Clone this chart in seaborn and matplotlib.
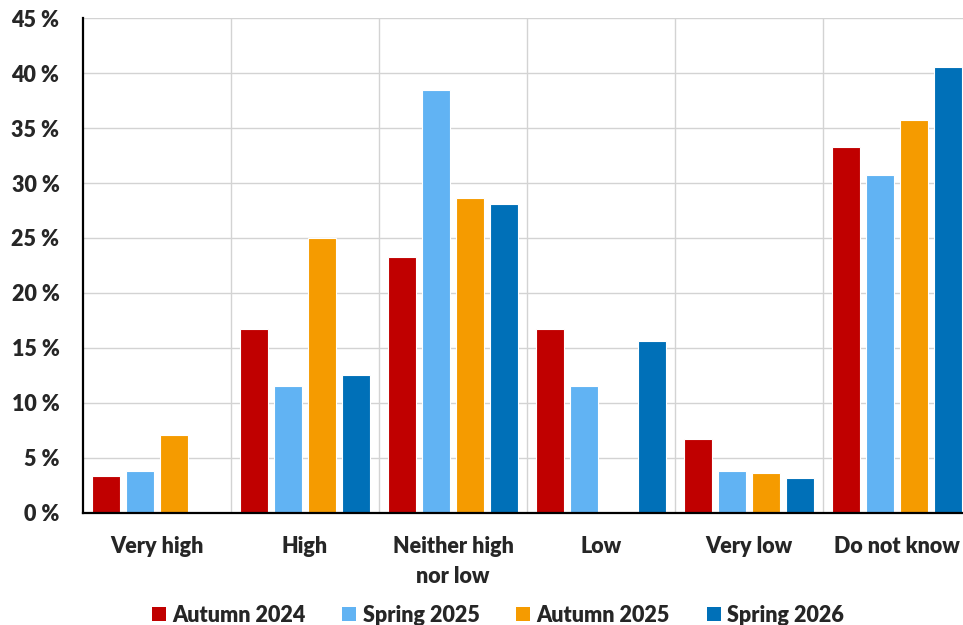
import matplotlib
matplotlib.use("Agg")
import matplotlib.pyplot as plt
from matplotlib.patches import Patch
from matplotlib.ticker import FixedLocator, MultipleLocator, FuncFormatter
import seaborn as sns
import pandas as pd

categories = ["Very high", "High", "Neither high\nnor low", "Low", "Very low", "Do not know"]
surveys = ["Autumn 2024", "Spring 2025", "Autumn 2025", "Spring 2026"]
autumn_2024 = [3.3, 16.7, 23.3, 16.7, 6.7, 33.3]
spring_2025 = [3.8, 11.5, 38.5, 11.5, 3.8, 30.7]
autumn_2025 = [7.1, 25.0, 28.6, 0.0, 3.6, 35.7]
spring_2026 = [0.0, 12.5, 28.1, 15.6, 3.1, 40.6]
colors = ["#C00000", "#61B3F3", "#F59B00", "#0070B8"]

series = [autumn_2024, spring_2025, autumn_2025, spring_2026]
rows = []
for name, vals in zip(surveys, series):
    for cat, v in zip(categories, vals):
        rows.append({"category": cat, "survey": name, "share": v})
df = pd.DataFrame(rows)

sns.set_style("white")
plt.rcParams["font.family"] = ["Lato", "DejaVu Sans"]
plt.rcParams["font.weight"] = "bold"

fig = plt.figure(figsize=(9.63, 6.25), dpi=100)
ax = fig.add_axes([83 / 963, 1 - 512.5 / 625, 888 / 963, 494.2 / 625])

sns.barplot(data=df, x="category", y="share", hue="survey",
            order=categories, hue_order=surveys, palette=colors, saturation=1,
            width=0.92, gap=0.2, edgecolor="white", linewidth=0.8,
            legend=False, ax=ax, zorder=2)

ax.set_ylim(0, 45)
ax.set_xlim(-0.5, len(categories) - 0.5)
ax.yaxis.set_major_locator(MultipleLocator(5))
ax.yaxis.set_major_formatter(FuncFormatter(lambda v, _: f"{v:.0f} %"))
ax.xaxis.set_minor_locator(FixedLocator([i + 0.5 for i in range(len(categories) - 1)]))

ax.grid(axis="y", which="major", color="#D3D3D3", linewidth=1.0, zorder=0)
ax.grid(axis="x", which="minor", color="#D3D3D3", linewidth=1.0, zorder=0)
ax.grid(axis="x", which="major", visible=False)
ax.set_axisbelow(True)

for side in ("top", "right"):
    ax.spines[side].set_visible(False)
for side in ("left", "bottom"):
    ax.spines[side].set_color("black")
    ax.spines[side].set_linewidth(1.6)

ax.tick_params(axis="y", which="major", direction="in", length=5, width=1.6,
               color="black", labelsize=15.5, pad=17)
ax.tick_params(axis="x", which="major", length=0, labelsize=15.5, pad=17)
ax.tick_params(axis="x", which="minor", direction="in", length=5, width=1.6, color="black")
for lbl in ax.get_xticklabels() + ax.get_yticklabels():
    lbl.set_fontweight("heavy")
    lbl.set_linespacing(1.5)
ax.set_xlabel("")
ax.set_ylabel("")

handles = [Patch(facecolor=c, edgecolor="none") for c in colors]
leg = fig.legend(handles, surveys, loc="lower center", bbox_to_anchor=(0.517, -0.032),
                 ncol=4, frameon=False, prop={"size": 15.5, "weight": "heavy"},
                 handlelength=0.65, handleheight=0.65, handletextpad=0.3, columnspacing=1.7)

fig.savefig("out.png", dpi=100)
